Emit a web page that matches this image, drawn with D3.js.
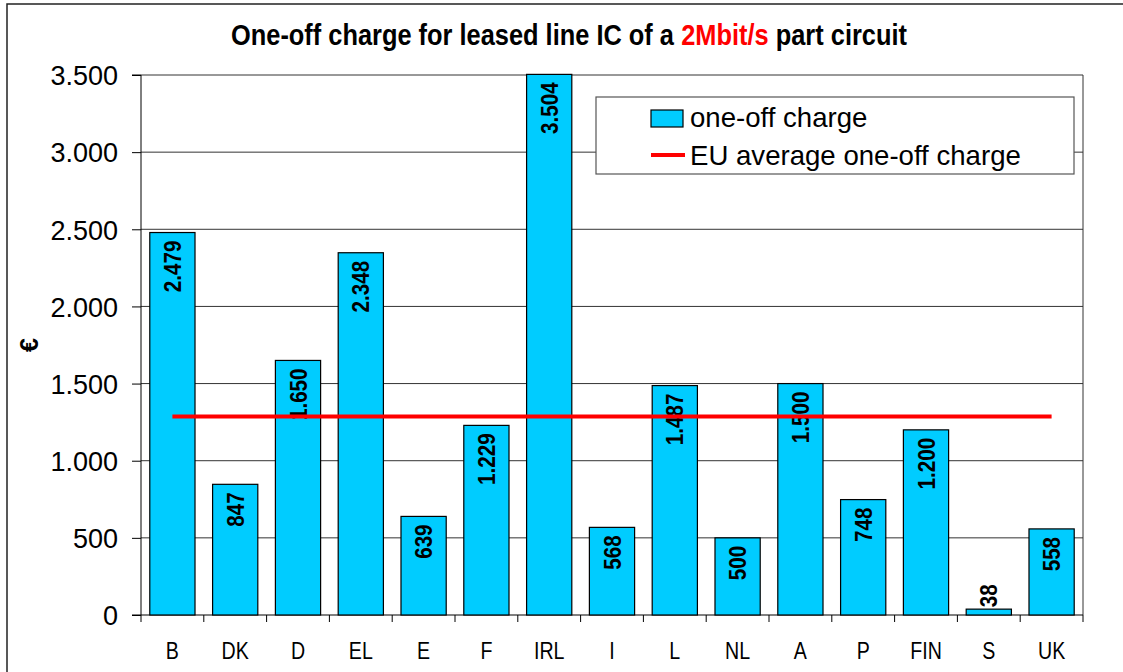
<!DOCTYPE html>
<html>
<head>
<meta charset="utf-8">
<script src="https://cdn.jsdelivr.net/npm/d3@7"></script>
<style>
  html, body { margin: 0; padding: 0; background: #fff; }
  svg { display: block; font-family: "Liberation Sans", Arial, sans-serif; }
</style>
</head>
<body>
<svg id="chart" width="1123" height="672"></svg>
<script>
const categories = ["B", "DK", "D", "EL", "E", "F", "IRL", "I", "L", "NL", "A", "P", "FIN", "S", "UK"];
const oneOffCharge = [2479, 847, 1650, 2348, 639, 1229, 3504, 568, 1487, 500, 1500, 748, 1200, 38, 558];
const euAverage = 1286;
const yTicks = [0, 500, 1000, 1500, 2000, 2500, 3000, 3500];
const yTickLabels = ["0", "500", "1.000", "1.500", "2.000", "2.500", "3.000", "3.500"];
const legendLabels = ["one-off charge", "EU average one-off charge"];
const titleParts = [
  { text: "One-off charge for leased line IC of a ", red: false },
  { text: "2Mbit/s", red: true },
  { text: " part circuit", red: false }
];

const svg = d3.select("#chart");
const plot = { left: 141, right: 1083, top: 75, bottom: 615 };

// outer frame
svg.append("rect").attr("x", 7).attr("y", 4).attr("width", 1130).attr("height", 690)
  .attr("fill", "#fff").attr("stroke", "#222").attr("stroke-width", 1.5);

const x = d3.scaleBand().domain(categories).range([plot.left, plot.right])
  .paddingInner(0.28).paddingOuter(0.14);
const y = d3.scaleLinear().domain([0, 3500]).range([plot.bottom, plot.top]);

// gridlines
svg.append("g").selectAll("line").data(yTicks.filter(d => d > 0)).join("line")
  .attr("x1", plot.left).attr("x2", plot.right)
  .attr("y1", d => y(d)).attr("y2", d => y(d))
  .attr("stroke", "#333").attr("stroke-width", 1);

// plot right border
svg.append("line").attr("x1", plot.right).attr("x2", plot.right)
  .attr("y1", plot.top).attr("y2", plot.bottom).attr("stroke", "#333");

// y axis
const yAxis = d3.axisLeft(y).tickValues(yTicks)
  .tickFormat((d, i) => yTickLabels[i]).tickSize(9).tickPadding(14);
const yg = svg.append("g").attr("transform", `translate(${plot.left},0)`).call(yAxis);
yg.select(".domain").attr("stroke", "#000").attr("d", `M-9,${plot.top}H0V${plot.bottom}H-9`);
yg.selectAll(".tick line").attr("stroke", "#000");
yg.selectAll(".tick text").attr("font-size", "27px").attr("fill", "#000")
  .attr("font-family", "'Liberation Sans', Arial, sans-serif").attr("dy", "0.36em");

// x axis
const boundaries = categories.map(c => x(c) - x.step() * x.paddingInner() / 2).concat([plot.right]);
const xg = svg.append("g");
xg.append("line").attr("x1", plot.left).attr("x2", plot.right)
  .attr("y1", plot.bottom).attr("y2", plot.bottom).attr("stroke", "#000");
xg.selectAll("line.tk").data(boundaries).join("line").attr("class", "tk")
  .attr("x1", d => d).attr("x2", d => d)
  .attr("y1", plot.bottom).attr("y2", plot.bottom + 7).attr("stroke", "#000");
xg.selectAll("text").data(categories).join("text")
  .attr("transform", d => `translate(${x(d) + x.bandwidth() / 2},659) scale(0.8,1)`)
  .attr("text-anchor", "middle").attr("font-size", "24.5px").attr("fill", "#000")
  .text(d => d);

// bars
svg.append("g").selectAll("rect").data(categories).join("rect")
  .attr("x", d => x(d)).attr("width", x.bandwidth())
  .attr("y", (d, i) => y(oneOffCharge[i]))
  .attr("height", (d, i) => y(0) - y(oneOffCharge[i]))
  .attr("fill", "#00CCFF").attr("stroke", "#000").attr("stroke-width", 1.2);

// value labels
const fmt = v => v >= 1000 ? Math.floor(v / 1000) + "." + String(v % 1000).padStart(3, "0") : String(v);
svg.append("g").selectAll("text").data(categories).join("text")
  .attr("transform", (d, i) => {
    const cx = x(d) + x.bandwidth() / 2;
    const v = oneOffCharge[i];
    const inside = (y(0) - y(v)) > 60;
    const yy = inside ? y(v) + 8 : y(v) - 2;
    return `translate(${cx},${yy}) rotate(-90) scale(0.86,1)`;
  })
  .attr("text-anchor", (d, i) => (y(0) - y(oneOffCharge[i])) > 60 ? "end" : "start")
  .attr("dy", "0.36em")
  .attr("font-size", "24px").attr("font-weight", "bold").attr("fill", "#000")
  .text((d, i) => fmt(oneOffCharge[i]));

// EU average line
svg.append("line")
  .attr("x1", x(categories[0]) + x.bandwidth() / 2)
  .attr("x2", x(categories[categories.length - 1]) + x.bandwidth() / 2)
  .attr("y1", y(euAverage)).attr("y2", y(euAverage))
  .attr("stroke", "#FF0000").attr("stroke-width", 4);

// y axis title
svg.append("text").attr("transform", "translate(38,345) rotate(-90)")
  .attr("text-anchor", "middle").attr("font-size", "25px").attr("font-weight", "bold")
  .attr("fill", "#000").text("€");

// title: separate text pieces, condensed with a scale transform
const titleG = svg.append("g");
let cursor = 0;
titleParts.forEach(p => {
  const t = titleG.append("text").attr("x", cursor).attr("y", 0)
    .attr("font-size", "29px").attr("font-weight", "bold")
    .attr("xml:space", "preserve").style("white-space", "pre")
    .attr("fill", p.red ? "#FF0000" : "#000").text(p.text);
  cursor += t.node().getComputedTextLength();
});
const titleScale = 676 / cursor;
titleG.attr("transform", `translate(231,45) scale(${titleScale},1)`);

// legend
const lg = svg.append("g");
lg.append("rect").attr("x", 596).attr("y", 97).attr("width", 478).attr("height", 77)
  .attr("fill", "#fff").attr("stroke", "#555").attr("stroke-width", 1.2);
lg.append("rect").attr("x", 651).attr("y", 110).attr("width", 32).attr("height", 17)
  .attr("fill", "#00CCFF").attr("stroke", "#000").attr("stroke-width", 1.2);
lg.append("line").attr("x1", 651).attr("x2", 685).attr("y1", 155).attr("y2", 155)
  .attr("stroke", "#FF0000").attr("stroke-width", 4);
lg.selectAll("text").data(legendLabels).join("text")
  .attr("x", 690).attr("y", (d, i) => i === 0 ? 127 : 165)
  .attr("font-size", "27.6px").attr("fill", "#000").text(d => d);
</script>
</body>
</html>
